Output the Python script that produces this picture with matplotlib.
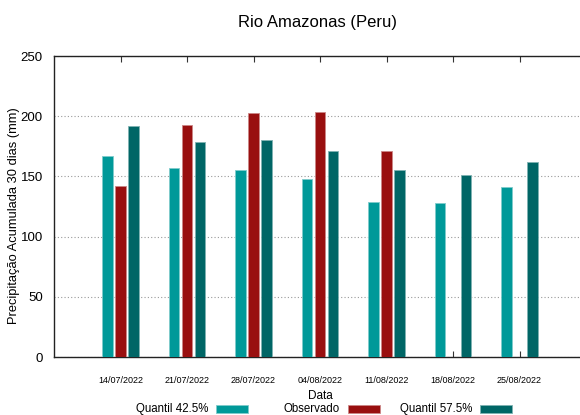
import matplotlib
matplotlib.use('Agg')
import matplotlib.pyplot as plt
from matplotlib.patches import Rectangle
import numpy as np

plt.rcParams['font.family'] = ['Liberation Sans', 'DejaVu Sans']

# data
datas = ['14/07/2022', '21/07/2022', '28/07/2022', '04/08/2022', '11/08/2022', '18/08/2022', '25/08/2022']
q425 = [167, 157, 155, 148, 129, 127.5, 141]
observado = [142, 193, 203, 203.5, 171.5, np.nan, np.nan]
q575 = [192, 178.5, 180.5, 171.5, 155.5, 151, 162]

series = [('Quantil 42.5%', q425, '#009999', '#7fcccc'),
          ('Observado', observado, '#990f0f', '#cc8787'),
          ('Quantil 57.5%', q575, '#006666', '#7fb2b2')]

fig = plt.figure(figsize=(5.8, 4.15), dpi=100)
ax = fig.add_axes([54/580, 1 - 357/415, (586-54)/580, (357-56)/415])

x = np.arange(len(datas))
w = 0.155
off = 0.197
for i, (name, vals, col, edge) in enumerate(series):
    ax.bar(x + (i-1)*off, vals, w, color=col, edgecolor=edge, linewidth=0.6, zorder=3)

ax.set_xlim(-1, 7)
ax.set_ylim(0, 250)
ax.set_yticks([0, 50, 100, 150, 200, 250])
ax.set_xticks(x)
ax.set_xticklabels(datas, fontsize=6.5)
ax.tick_params(axis='x', direction='in', top=True, bottom=True, length=4, pad=14, width=0.8, color='#333333')
ax.tick_params(axis='y', direction='in', left=True, length=0, labelsize=9.5, pad=8)
ax.yaxis.grid(True, linestyle=(0, (1, 2)), color='#999999', linewidth=0.8, zorder=0)
for s in ['left', 'top', 'bottom']:
    ax.spines[s].set_linewidth(1.0)
    ax.spines[s].set_color('#222222')
ax.spines['right'].set_visible(False)

fig.text(14/580, 1 - 216/415, 'Precipitação Acumulada 30 dias (mm)', rotation=90,
         ha='center', va='center', fontsize=9.3)
fig.text(318/580, 1 - 22/415, 'Rio Amazonas (Peru)', ha='center', va='center', fontsize=12)
fig.text(320/580, 1 - 396/415, 'Data', ha='center', va='center', fontsize=8.5)

# legend below, gnuplot style (text then sample)
for i, (name, vals, col, edge) in enumerate(series):
    xr = 208 + i*132
    fig.text(xr/580, 1 - 409/415, name, ha='right', va='center', fontsize=8.3)
    fig.patches.append(Rectangle(((xr+8)/580, 1 - 413/415), 32/580, 8/415,
                                 transform=fig.transFigure, facecolor=col,
                                 edgecolor=edge, linewidth=0.6))

fig.savefig('out.png', dpi=100)
